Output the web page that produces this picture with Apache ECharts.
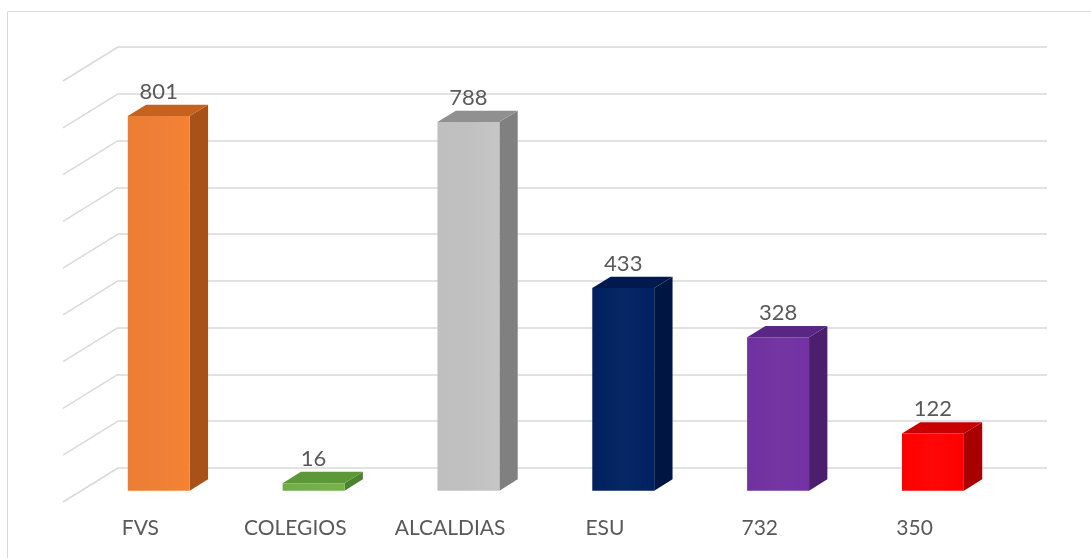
<!DOCTYPE html>
<html>
<head>
<meta charset="utf-8">
<style>
  html, body { margin: 0; padding: 0; background: #ffffff; }
  #chart { width: 1091px; height: 558px; }
</style>
<script src="https://cdn.jsdelivr.net/npm/echarts@6/dist/echarts.min.js"></script>
</head>
<body>
<div id="chart"></div>
<script>
// Categories and their totals
const categories = ['FVS', 'COLEGIOS', 'ALCALDIAS', 'ESU', '732', '350'];
const values = [801, 16, 788, 433, 328, 122];

// Value axis ticks (back wall gridlines)
const yTicks = [0, 100, 200, 300, 400, 500, 600, 700, 800, 900];

// Face colours per bar: front, top, side
const palette = [
  { front: '#ED7D31', top: '#C4621F', side: '#A8521A' },
  { front: '#70AD47', top: '#5C9838', side: '#4C8230' },
  { front: '#BFBFBF', top: '#909090', side: '#808080' },
  { front: '#002060', top: '#001A4E', side: '#001642' },
  { front: '#7030A0', top: '#5A2684', side: '#4B1F6E' },
  { front: '#FF0000', top: '#C80000', side: '#A80000' }
];

// Depth vector from the back wall to the front edge of the floor (pixels)
const DEPTH = [-55, 34];

const chart = echarts.init(document.getElementById('chart'), null, { renderer: 'canvas' });

function renderBar(params, api) {
  const i = api.value(0);
  const v = api.value(1);
  const top = api.coord([i, v]);
  const base = api.coord([i, 0]);
  const bandW = api.size([1, 0])[0];
  const barW = bandW * 0.4;
  const c = palette[params.dataIndex];

  // back face sits one third into the floor, front face two thirds
  const bx = top[0] - barW / 2 + DEPTH[0] / 3;
  const bTop = top[1] + DEPTH[1] / 3;
  const bBot = base[1] + DEPTH[1] / 3;
  const fx = top[0] - barW / 2 + DEPTH[0] * 2 / 3;
  const fTop = top[1] + DEPTH[1] * 2 / 3;
  const fBot = base[1] + DEPTH[1] * 2 / 3;

  return {
    type: 'group',
    children: [
      {
        type: 'polygon',
        shape: { points: [[fx + barW, fTop], [bx + barW, bTop], [bx + barW, bBot], [fx + barW, fBot]] },
        style: { fill: c.side }
      },
      {
        type: 'polygon',
        shape: { points: [[fx, fTop], [bx, bTop], [bx + barW, bTop], [fx + barW, fTop]] },
        style: { fill: c.top }
      },
      {
        type: 'rect',
        shape: { x: fx, y: fTop, width: barW, height: fBot - fTop },
        style: {
          fill: {
            type: 'linear', x: 0, y: 0, x2: 1, y2: 0,
            colorStops: [
              { offset: 0, color: c.front },
              { offset: 0.5, color: echarts.color.lift(c.front, 0.03) },
              { offset: 1, color: echarts.color.lift(c.front, -0.04) }
            ]
          }
        }
      },
      {
        type: 'text',
        style: {
          text: String(v),
          x: fx + barW / 2,
          y: bTop - 13,
          align: 'center',
          verticalAlign: 'middle',
          fill: '#595959',
          font: '22px Lato, "Open Sans", sans-serif'
        }
      }
    ]
  };
}

function renderDiagonal(params, api) {
  const p = api.coord([0, api.value(0)]);
  const rect = params.coordSys;
  return {
    type: 'line',
    shape: { x1: rect.x + DEPTH[0], y1: p[1] + DEPTH[1], x2: rect.x, y2: p[1] },
    style: { stroke: '#D9D9D9', lineWidth: 1.5 }
  };
}

chart.setOption({
  animation: false,
  backgroundColor: '#ffffff',
  graphic: [{
    type: 'rect',
    shape: { x: 7.5, y: 11.5, width: 1090, height: 560 },
    style: { fill: 'none', stroke: '#D9D9D9', lineWidth: 1 },
    silent: true
  }],
  grid: [
    // back wall
    { left: 118, right: 44, top: 47, bottom: 90 },
    // front edge of the floor
    { left: 63, right: 99, top: 81, bottom: 56 }
  ],
  xAxis: [
    {
      type: 'category', gridIndex: 0, data: categories,
      axisLine: { show: false }, axisTick: { show: false }, axisLabel: { show: false }
    },
    {
      type: 'category', gridIndex: 1, data: categories,
      axisLine: { show: false }, axisTick: { show: false },
      axisLabel: {
        color: '#595959', fontSize: 21, margin: 16,
        fontFamily: 'Lato, "Open Sans", sans-serif'
      }
    }
  ],
  yAxis: [
    {
      type: 'value', gridIndex: 0, min: 0, max: 900, interval: 100,
      axisLine: { show: false }, axisTick: { show: false }, axisLabel: { show: false },
      splitLine: { lineStyle: { color: '#D9D9D9', width: 1.5 } }
    },
    {
      type: 'value', gridIndex: 1, min: 0, max: 900, interval: 100, show: false,
      splitLine: { show: false }
    }
  ],
  series: [
    {
      type: 'custom', xAxisIndex: 0, yAxisIndex: 0, z: 1,
      renderItem: renderDiagonal,
      data: yTicks.map(t => [t])
    },
    {
      type: 'custom', xAxisIndex: 0, yAxisIndex: 0, z: 3,
      renderItem: renderBar,
      data: values.map((v, i) => [i, v])
    }
  ]
});
</script>
</body>
</html>
